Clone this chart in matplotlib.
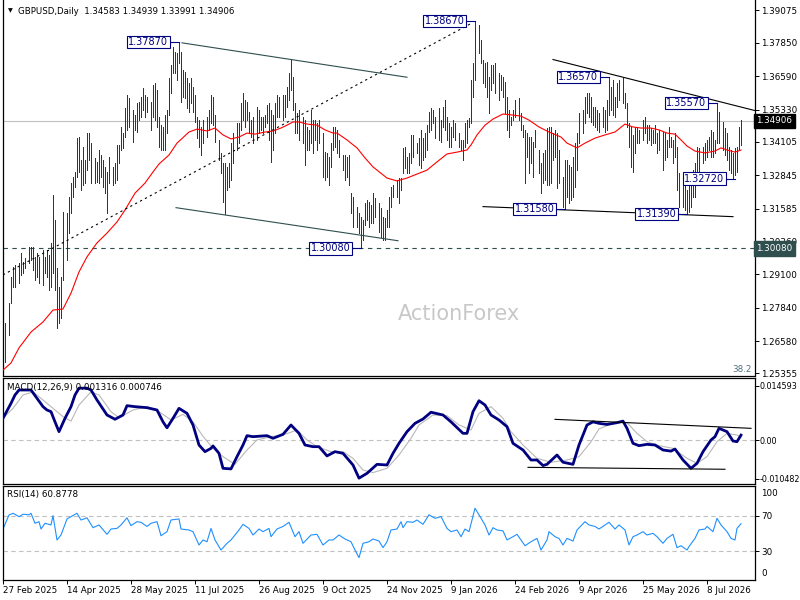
import matplotlib
matplotlib.use("Agg")
import matplotlib.pyplot as plt
from matplotlib.transforms import blended_transform_factory

plt.rcParams['font.family'] = ['DejaVu Sans']

# ---------------- data (GBPUSD daily) ----------------
# day = trading-day index from 27 Feb 2025
bar_day = [0, 1, 3, 4, 5, 6, 8, 9, 10, 11, 13, 14, 15, 16, 17, 18, 20, 21, 22, 23,
           24, 25, 26, 27, 28, 29, 30, 32, 33, 34, 35, 36, 37, 38, 39, 40, 41, 42, 43, 44,
           46, 47, 48, 49, 50, 51, 52, 53, 55, 56, 57, 58, 59, 60, 61, 62, 63, 65, 66, 67,
           68, 69, 70, 71, 72, 74, 75, 76, 77, 78, 79, 80, 81, 82, 83, 84, 85, 86, 87, 88,
           89, 90, 91, 92, 93,
           94, 95, 96, 97, 98, 99, 100, 102, 103, 104, 105, 106, 108, 109, 110, 111, 112, 113, 114, 115,
           117, 118, 119, 120, 121, 122, 123, 124, 125, 127, 128, 129, 130, 131, 132, 133, 134, 135, 136, 137,
           138, 140, 141, 142, 143, 144, 145, 146, 147, 148, 150, 151, 152, 153, 154, 155, 156, 157, 158, 160,
           161, 162, 163, 164, 165, 166, 167, 168, 170, 171, 172, 173, 174, 175, 177, 178, 179, 180, 181, 182,
           183, 184,
           185, 186, 188, 189, 190, 191, 192, 193, 194, 195, 197, 198, 199, 200, 201, 202, 203, 204, 205, 207,
           208, 209, 210, 211, 212, 213, 214, 215, 216, 218, 219, 220, 221, 222, 223, 224, 225, 226, 228, 229,
           230, 231, 232, 233, 234, 235, 236, 238, 239, 240, 241, 242, 243, 244, 245, 246, 248, 249, 250, 251,
           252, 253, 254, 255, 256, 258, 259, 260, 261, 262, 263, 264, 265, 266, 268, 269, 270, 271, 272, 273,
           274, 275, 276,
           277, 278, 280, 281, 282, 283, 284, 285, 286, 287, 288, 290, 291, 292, 293, 294, 295, 296, 297, 298,
           300, 301, 302, 303, 304, 305, 306, 307, 308, 310, 311, 312, 313, 314, 315, 316, 317, 318, 320, 321,
           322, 323, 324, 325, 326, 327, 328, 330, 331, 332, 333, 334, 335, 336, 337, 338, 340, 341, 342, 343,
           344, 345, 346, 347, 348, 350, 351, 352, 353, 354, 355, 356, 357, 358, 360, 361, 362, 363, 364, 365,
           366, 367, 368, 369]

bar_high = [1.2692, 1.2726, 1.2802, 1.2900, 1.2938, 1.2945, 1.2953, 1.2991, 1.2957, 1.2972,
            1.3013, 1.3013, 1.3013, 1.2976, 1.2991, 1.2976, 1.3002, 1.2976, 1.3002, 1.2983,
            1.3028, 1.3210, 1.3115, 1.2934, 1.2862, 1.2900, 1.3146, 1.3142, 1.3202, 1.3255,
            1.3278, 1.3297, 1.3425, 1.3429, 1.3342, 1.3391, 1.3342, 1.3444, 1.3444, 1.3406,
            1.3350, 1.3335, 1.3380, 1.3361, 1.3342, 1.3316, 1.3297, 1.3354, 1.3316, 1.3331,
            1.3399, 1.3399, 1.3467, 1.3444, 1.3539, 1.3588, 1.3577, 1.3531, 1.3512, 1.3558,
            1.3561, 1.3580, 1.3614, 1.3588, 1.3580, 1.3561, 1.3626, 1.3633, 1.3607, 1.3505,
            1.3474, 1.3467, 1.3512, 1.3531, 1.3652, 1.3701, 1.3769, 1.3750, 1.3747, 1.3787,
            1.3750, 1.3682, 1.3675, 1.3652, 1.3633,
            1.3652, 1.3618, 1.3588, 1.3505, 1.3493, 1.3467, 1.3493, 1.3505, 1.3531, 1.3588,
            1.3580, 1.3512, 1.3418, 1.3369, 1.3331, 1.3331, 1.3316, 1.3331, 1.3406, 1.3444,
            1.3482, 1.3482, 1.3558, 1.3595, 1.3569, 1.3561, 1.3524, 1.3493, 1.3505, 1.3543,
            1.3531, 1.3505, 1.3505, 1.3512, 1.3550, 1.3558, 1.3531, 1.3512, 1.3558, 1.3588,
            1.3580, 1.3588, 1.3588, 1.3618, 1.3671, 1.3720, 1.3656, 1.3558, 1.3520, 1.3531,
            1.3505, 1.3493, 1.3467, 1.3456, 1.3531, 1.3493, 1.3493, 1.3482, 1.3493, 1.3444,
            1.3372, 1.3369, 1.3354, 1.3406, 1.3467, 1.3467, 1.3456, 1.3418, 1.3361, 1.3361,
            1.3354, 1.3361, 1.3217, 1.3202, 1.3165, 1.3142, 1.3127, 1.3115, 1.3180, 1.3191,
            1.3183, 1.3172,
            1.3217, 1.3199, 1.3180, 1.3161, 1.3127, 1.3123, 1.3153, 1.3202, 1.3240, 1.3248,
            1.3267, 1.3274, 1.3274, 1.3388, 1.3391, 1.3354, 1.3369, 1.3437, 1.3437, 1.3406,
            1.3425, 1.3456, 1.3425, 1.3444, 1.3474, 1.3524, 1.3539, 1.3531, 1.3505, 1.3539,
            1.3493, 1.3543, 1.3569, 1.3505, 1.3482, 1.3467, 1.3493, 1.3482, 1.3444, 1.3418,
            1.3418, 1.3482, 1.3493, 1.3501, 1.3645, 1.3709, 1.3867, 1.3853, 1.3796, 1.3720,
            1.3709, 1.3713, 1.3656, 1.3701, 1.3701, 1.3709, 1.3671, 1.3663, 1.3656, 1.3637,
            1.3580, 1.3531, 1.3505, 1.3531, 1.3569, 1.3577, 1.3520, 1.3474, 1.3456, 1.3444,
            1.3429, 1.3429, 1.3410, 1.3456, 1.3380, 1.3331, 1.3369, 1.3380, 1.3463, 1.3467,
            1.3467, 1.3444, 1.3456,
            1.3444, 1.3380, 1.3278, 1.3342, 1.3342, 1.3323, 1.3316, 1.3354, 1.3406, 1.3444,
            1.3520, 1.3531, 1.3580, 1.3595, 1.3595, 1.3580, 1.3543, 1.3543, 1.3531, 1.3520,
            1.3543, 1.3531, 1.3569, 1.3657, 1.3618, 1.3645, 1.3580, 1.3633, 1.3645, 1.3652,
            1.3595, 1.3558, 1.3482, 1.3467, 1.3437, 1.3467, 1.3467, 1.3456, 1.3493, 1.3505,
            1.3474, 1.3474, 1.3463, 1.3456, 1.3474, 1.3444, 1.3456, 1.3448, 1.3444, 1.3418,
            1.3467, 1.3429, 1.3418, 1.3444, 1.3391, 1.3293, 1.3267, 1.3267, 1.3229, 1.3267,
            1.3267, 1.3304, 1.3331, 1.3391, 1.3388, 1.3391, 1.3406, 1.3418, 1.3429, 1.3456,
            1.3448, 1.3418, 1.3557, 1.3524, 1.3486, 1.3463, 1.3444, 1.3391, 1.3380, 1.3369,
            1.3388, 1.3391, 1.3467, 1.3494]

bar_low = [1.2594, 1.2579, 1.2681, 1.2802, 1.2862, 1.2862, 1.2877, 1.2907, 1.2915, 1.2934,
           1.2953, 1.2964, 1.2926, 1.2889, 1.2900, 1.2877, 1.2870, 1.2915, 1.2900, 1.2851,
           1.2862, 1.2915, 1.2851, 1.2707, 1.2726, 1.2745, 1.2889, 1.2964, 1.3066, 1.3142,
           1.3202, 1.3240, 1.3278, 1.3297, 1.3229, 1.3248, 1.3255, 1.3304, 1.3342, 1.3255,
           1.3255, 1.3259, 1.3255, 1.3278, 1.3240, 1.3217, 1.3142, 1.3255, 1.3248, 1.3255,
           1.3267, 1.3331, 1.3380, 1.3388, 1.3429, 1.3456, 1.3467, 1.3410, 1.3456, 1.3448,
           1.3493, 1.3505, 1.3531, 1.3505, 1.3524, 1.3456, 1.3505, 1.3493, 1.3467, 1.3391,
           1.3380, 1.3380, 1.3380, 1.3444, 1.3512, 1.3595, 1.3671, 1.3671, 1.3645, 1.3709,
           1.3561, 1.3580, 1.3577, 1.3539, 1.3524,
           1.3558, 1.3524, 1.3486, 1.3425, 1.3391, 1.3361, 1.3406, 1.3429, 1.3456, 1.3482,
           1.3474, 1.3410, 1.3342, 1.3293, 1.3183, 1.3138, 1.3229, 1.3240, 1.3267, 1.3331,
           1.3380, 1.3406, 1.3456, 1.3493, 1.3467, 1.3493, 1.3444, 1.3429, 1.3406, 1.3418,
           1.3444, 1.3456, 1.3444, 1.3467, 1.3482, 1.3418, 1.3335, 1.3380, 1.3444, 1.3505,
           1.3505, 1.3493, 1.3505, 1.3543, 1.3569, 1.3607, 1.3531, 1.3444, 1.3444, 1.3418,
           1.3406, 1.3323, 1.3380, 1.3380, 1.3406, 1.3369, 1.3418, 1.3380, 1.3406, 1.3278,
           1.3267, 1.3278, 1.3248, 1.3316, 1.3380, 1.3391, 1.3369, 1.3354, 1.3304, 1.3267,
           1.3278, 1.3248, 1.3142, 1.3089, 1.3089, 1.3066, 1.3008, 1.3040, 1.3096, 1.3115,
           1.3089, 1.3104,
           1.3104, 1.3127, 1.3070, 1.3051, 1.3040, 1.3040, 1.3089, 1.3089, 1.3165, 1.3202,
           1.3202, 1.3180, 1.3229, 1.3293, 1.3312, 1.3293, 1.3293, 1.3331, 1.3354, 1.3369,
           1.3323, 1.3312, 1.3342, 1.3354, 1.3380, 1.3448, 1.3456, 1.3482, 1.3425, 1.3418,
           1.3410, 1.3467, 1.3456, 1.3418, 1.3391, 1.3391, 1.3429, 1.3418, 1.3391, 1.3380,
           1.3342, 1.3391, 1.3406, 1.3467, 1.3482, 1.3580, 1.3645, 1.3747, 1.3709, 1.3633,
           1.3618, 1.3580, 1.3520, 1.3607, 1.3633, 1.3595, 1.3569, 1.3607, 1.3580, 1.3520,
           1.3456, 1.3429, 1.3474, 1.3493, 1.3505, 1.3493, 1.3456, 1.3429, 1.3255, 1.3354,
           1.3293, 1.3331, 1.3278, 1.3391, 1.3293, 1.3217, 1.3255, 1.3267, 1.3248, 1.3248,
           1.3255, 1.3342, 1.3354,
           1.3236, 1.3255, 1.3165, 1.3158, 1.3202, 1.3180, 1.3191, 1.3202, 1.3240, 1.3304,
           1.3406, 1.3444, 1.3482, 1.3520, 1.3505, 1.3486, 1.3474, 1.3467, 1.3456, 1.3448,
           1.3467, 1.3448, 1.3456, 1.3512, 1.3531, 1.3512, 1.3505, 1.3543, 1.3569, 1.3558,
           1.3539, 1.3467, 1.3391, 1.3316, 1.3297, 1.3369, 1.3406, 1.3406, 1.3418, 1.3444,
           1.3406, 1.3418, 1.3399, 1.3406, 1.3406, 1.3369, 1.3380, 1.3304, 1.3342, 1.3354,
           1.3391, 1.3391, 1.3331, 1.3354, 1.3229, 1.3165, 1.3165, 1.3153, 1.3139, 1.3146,
           1.3165, 1.3202, 1.3202, 1.3255, 1.3293, 1.3331, 1.3342, 1.3354, 1.3380, 1.3354,
           1.3354, 1.3369, 1.3406, 1.3406, 1.3380, 1.3361, 1.3342, 1.3304, 1.3293, 1.3272,
           1.3285, 1.3297, 1.3380, 1.3399]

# moving average (red)
ma_day = [0, 4, 8, 14, 20, 25, 30, 34, 38, 42, 47, 52, 57, 61, 66, 71, 75, 78, 83, 87,
          93, 97, 102, 106, 110, 114, 118, 122, 126, 131, 135, 139, 142, 145, 148, 152, 157, 161, 165, 167,
          172, 177, 181, 185, 187, 192, 197, 202, 207, 212, 217, 222, 227, 232, 234, 237, 241, 245, 250, 255,
          259, 263, 268, 273, 279, 282, 287, 291, 296, 301, 306, 311, 315, 319, 324, 328, 332, 336, 339, 342,
          346, 351, 356, 359, 362, 366, 369]
ma_val = [1.2548, 1.2575, 1.2632, 1.2692, 1.2730, 1.2775, 1.2779, 1.2839, 1.2919, 1.2976,
          1.3029, 1.3066, 1.3108, 1.3153, 1.3217, 1.3255, 1.3297, 1.3327, 1.3361, 1.3406,
          1.3448, 1.3459, 1.3452, 1.3463, 1.3437, 1.3422, 1.3429, 1.3444, 1.3440, 1.3448,
          1.3452, 1.3463, 1.3474, 1.3486, 1.3486, 1.3478, 1.3474, 1.3456, 1.3444, 1.3444,
          1.3418, 1.3388, 1.3350, 1.3316, 1.3304, 1.3274, 1.3263, 1.3274, 1.3289, 1.3304,
          1.3335, 1.3365, 1.3372, 1.3380, 1.3399, 1.3437, 1.3474, 1.3497, 1.3516, 1.3512,
          1.3508, 1.3493, 1.3467, 1.3448, 1.3429, 1.3406, 1.3388, 1.3406, 1.3425, 1.3437,
          1.3448, 1.3478, 1.3467, 1.3463, 1.3463, 1.3456, 1.3444, 1.3440, 1.3418, 1.3395,
          1.3376, 1.3369, 1.3376, 1.3388, 1.3380, 1.3372, 1.3380]

# MACD(12,26,9)
macd_day = [0, 4, 6, 8, 14, 17, 20, 22, 24, 26, 28, 31, 34, 36, 38, 42, 44, 47, 52, 56,
            60, 62, 66, 72, 77, 80, 82, 85, 88, 92, 95, 98, 101, 104, 105, 108, 110, 114, 117, 120,
            122, 125, 132, 135, 140, 144, 148, 151, 155, 158, 162, 166, 170, 175, 178, 182, 187, 192, 195, 198,
            202, 206, 210, 214, 220, 224, 230, 232, 235, 238, 241, 244, 248, 252, 255, 260, 264, 267, 270, 272,
            277, 280, 285, 288, 292, 295, 298, 302, 307, 310, 312, 315, 318, 322, 326, 330, 334, 336, 340, 344,
            347, 350, 354, 356, 358, 362, 365, 367, 369]
macd_val = [0.00586, 0.0099, 0.01215, 0.0135, 0.0135, 0.01125, 0.0090, 0.0081, 0.00765, 0.0049,
            0.00225, 0.00585, 0.0090, 0.01215, 0.0140, 0.0140, 0.0135, 0.0108, 0.00675, 0.0056,
            0.00675, 0.00927, 0.0090, 0.00873, 0.0081, 0.0049, 0.0033, 0.00585, 0.00855, 0.0072,
            0.00405, -0.00135, -0.00315, -0.00225, -0.0016, -0.0036, -0.00765, -0.0078, -0.0045, -0.00135,
            0.00117, 0.0009, 0.00117, 0.00045, 0.00153, 0.00405, 0.0018, -0.00135, -0.0018, -0.0018,
            -0.0043, -0.00315, -0.0036, -0.00675, -0.0103, -0.009, -0.00657, -0.00675, -0.0036, -0.0009,
            0.00225, 0.0045, 0.00567, 0.0075, 0.00675, 0.0049, 0.0018, 0.0018, 0.00765, 0.0106,
            0.00945, 0.00675, 0.0054, 0.0036, -0.0009, -0.0027, -0.0054, -0.0054, -0.0069, -0.00657,
            -0.00405, -0.006, -0.00657, -0.00135, 0.00405, 0.0049, 0.0045, 0.0042, 0.00468, 0.0051,
            0.00315, -0.0009, -0.00153, -0.00117, -0.00135, -0.0027, -0.003, -0.00243, -0.0054, -0.00765,
            -0.0063, -0.00315, 0.0, 0.0009, 0.00315, 0.00225, -0.00027, -0.00045, 0.001316]
sig_day = [0, 5, 10, 15, 20, 25, 30, 34, 38, 44, 48, 54, 58, 65, 72, 78, 84, 90, 95, 100,
           105, 110, 116, 122, 127, 134, 140, 147, 152, 157, 164, 170, 175, 180, 185, 192, 198,
           204, 208, 215, 222, 228, 234, 238, 244, 250, 254, 260, 267, 274, 282, 288, 294, 298, 305,
           312, 317, 322, 328, 335, 342, 347, 352, 357, 362, 367, 369]
sig_val = [0.00585, 0.00855, 0.01215, 0.0130, 0.0108, 0.00855, 0.0063, 0.0051, 0.00945, 0.0130,
           0.01215, 0.00765, 0.006, 0.0081, 0.009, 0.00765, 0.0054, 0.00693, 0.0049, 0.001,
           -0.00225, -0.0045, -0.00657, -0.0027, 0.0, 0.0009, 0.00135, 0.0027, 0.0, -0.0018,
           -0.00315, -0.00315, -0.00495, -0.0081, -0.0088, -0.00765, -0.00405,
           0.00045, 0.00405, 0.00675, 0.00657, 0.00405, 0.0027, 0.0072, 0.009, 0.00585, 0.00225,
           -0.00135, -0.00495, -0.006, -0.0054, -0.0045, -0.0005, 0.0030, 0.0045,
           0.00468, 0.0018, -0.00045, -0.00153, -0.00225, -0.00495, -0.0063, -0.0045, -0.00045, 0.0018,
           0.00135, 0.000746]

# RSI(14)
rsi_day = [0, 3, 5, 8, 10, 13, 14, 16, 18, 19, 21, 24, 25, 27, 29, 32, 34, 37, 39, 42,
           45, 48, 52, 54, 57, 59, 62, 64, 67, 69, 72, 74, 77, 79, 82, 84, 88, 89, 93, 95,
           98, 100, 102, 104, 106, 109, 112, 114, 118, 120, 123, 125, 128, 130, 133, 134, 137, 140, 143, 146,
           148, 150, 154, 157, 160, 163, 165, 168, 171, 174, 176, 178, 180, 183, 185, 188, 190, 192, 194, 197,
           199, 200, 202, 205, 207, 210, 213, 216, 219, 222, 224, 227, 229, 231, 233, 236, 238, 241, 243, 245,
           247, 250, 252, 255, 257, 259, 261, 264, 267, 269, 272, 273, 276, 278, 280, 282, 285, 287, 291, 293,
           296, 298, 301, 303, 306, 308, 311, 313, 315, 317, 320, 322, 325, 327, 330, 332, 335, 337, 339, 342,
           343, 346, 348, 351, 352, 355, 357, 359, 362, 364, 366, 367, 369]
rsi_val = [54.9, 70.8, 72.7, 68.9, 71.6, 71.0, 72.7, 61.4, 63.2, 54.9,
           61.4, 59.5, 70.0, 42.5, 48.1, 66.3, 69.0, 72.7, 65.1, 67.6,
           56.4, 59.5, 48.9, 54.9, 55.6, 59.5, 67.6, 58.7, 63.2, 62.5,
           57.8, 61.4, 63.2, 47.3, 51.9, 65.1, 66.3, 54.9, 53.8, 51.9,
           36.8, 42.5, 40.5, 55.6, 42.5, 31.1, 38.7, 42.5, 53.8, 60.2,
           55.6, 48.1, 54.9, 51.9, 55.6, 46.2, 54.9, 57.8, 62.5, 46.2,
           51.9, 38.7, 48.1, 48.9, 36.8, 42.5, 42.5, 48.1, 43.6, 40.5,
           31.1, 22.5, 38.7, 40.5, 43.6, 41.3, 33.8, 40.5, 53.8, 54.9,
           63.2, 56.4, 63.2, 62.5, 65.1, 60.2, 71.0, 67.0, 69.0, 55.6,
           51.9, 53.8, 46.2, 54.9, 51.9, 78.4, 71.0, 59.5, 48.1, 56.4,
           53.8, 52.8, 42.5, 46.2, 48.9, 42.5, 36.0, 40.5, 44.3, 31.1,
           42.5, 51.9, 46.2, 44.3, 36.8, 44.3, 41.3, 53.8, 63.2, 59.5,
           57.8, 54.9, 59.5, 62.5, 54.9, 59.5, 53.8, 36.8, 46.2, 48.1,
           51.9, 48.1, 50.0, 46.2, 38.7, 44.3, 48.9, 33.8, 36.0, 31.1,
           35.0, 44.3, 53.8, 54.9, 57.8, 51.9, 67.0, 59.5, 51.9, 44.3,
           42.5, 55.6, 60.8778]

price_ticks = [1.39075, 1.37850, 1.36590, 1.35330, 1.34105, 1.32845, 1.31585,
               1.30360, 1.29100, 1.27840, 1.26580, 1.25355]
date_days = [0, 32, 64, 96, 128, 160, 192, 224, 256, 288, 320, 352]
date_labels = ["27 Feb 2025", "14 Apr 2025", "28 May 2025", "11 Jul 2025",
               "26 Aug 2025", "9 Oct 2025", "24 Nov 2025", "9 Jan 2026",
               "24 Feb 2026", "9 Apr 2026", "25 May 2026", "8 Jul 2026"]

# swing high / low labels
pivot_day = [88, 236, 303, 357, 366, 342, 281, 179]
pivot_val = [1.37870, 1.38670, 1.36570, 1.35570, 1.32720, 1.31390, 1.31580, 1.30080]

# trendlines: (day0, price0, day1, price1)
channel_up = (89.5, 1.3785, 202, 1.3655)
channel_dn = (86.5, 1.3162, 197.5, 1.3037)
dotted_up = (0, 1.2908, 233.5, 1.3856)
resist_line = (275, 1.3722, 376, 1.3529)
support_line = (240, 1.3166, 365, 1.3128)
macd_upper = (276, 0.00558, 374, 0.00315)
macd_lower = (262.5, -0.00738, 361, -0.0079)

last_close = 1.34906
low_level = 1.30080

# ---------------- layout ----------------
W, H = 800, 600
BAR_C = '#0E3F5C'
SLATE = '#2F4F4F'
NAVY = '#000080'
FS = 6.3


def rect(x0, y0, x1, y1):
    return [x0 / W, 1 - y1 / H, (x1 - x0) / W, (y1 - y0) / H]


fig = plt.figure(figsize=(8, 6), dpi=100)
fig.patch.set_facecolor('white')
ax = fig.add_axes(rect(2.5, 0, 754.5, 375.5))
ax_m = fig.add_axes(rect(2.5, 378, 754.5, 483.5))
ax_r = fig.add_axes(rect(2.5, 486, 754.5, 579.5))

for a in (ax, ax_m, ax_r):
    a.set_xlim(-0.25, 375.75)
    for s in a.spines.values():
        s.set_linewidth(0.9)
        s.set_color('black')
    a.yaxis.tick_right()
    a.tick_params(axis='y', direction='out', length=3, width=0.7,
                  pad=2, labelsize=FS)
ax.spines['top'].set_visible(False)
ax.set_xticks([])
ax_m.set_xticks([])

# ---------------- main price panel ----------------
ax.set_ylim(1.25276, 1.3947)
ax.set_yticks(price_ticks)
ax.set_yticklabels([f"{p:.5f}" for p in price_ticks])

ax.axhline(last_close, color='#C0C0C0', lw=0.8, zorder=1)
ax.axhline(low_level, color=SLATE, lw=0.8, ls=(0, (4, 4)), zorder=1)

ax.vlines(bar_day, bar_low, bar_high, color=BAR_C, lw=0.65,
          antialiased=False, zorder=2)
ax.plot(ma_day, ma_val, color='red', lw=0.8, zorder=3)

for ln, col, ls in [(channel_up, SLATE, '-'), (channel_dn, SLATE, '-'),
                    (dotted_up, 'black', (0, (2, 3))),
                    (resist_line, 'black', '-'), (support_line, 'black', '-')]:
    ax.plot([ln[0], ln[2]], [ln[1], ln[3]], color=col, lw=0.8, ls=ls, zorder=3)

for d, v in zip(pivot_day, pivot_val):
    ax.plot([d - 4.5, d], [v, v], color=NAVY, lw=0.8, zorder=4)
    ax.text(d - 5.3, v, f"{v:.5f}", ha='right', va='center', fontsize=7,
            color=NAVY, zorder=5,
            bbox=dict(boxstyle='square,pad=0.12', fc='white', ec=NAVY, lw=0.8))

ax.text(0.0206, 0.9707, "GBPUSD,Daily  1.34583 1.34939 1.33991 1.34906",
        transform=ax.transAxes, fontsize=6.2, va='center', ha='left')
ax.text(0.0105, 0.9707, "\u25BC", transform=ax.transAxes, fontsize=4.5,
        va='center', ha='center')
ax.text(0.607, 0.164, "ActionForex", transform=ax.transAxes, fontsize=15,
        color='#C8C8C8', ha='center', va='center')
ax.text(0.9967, 0.0173, "38.2", transform=ax.transAxes, fontsize=FS,
        color='#4F6F7F', ha='right', va='center')

tr = blended_transform_factory(ax.transAxes, ax.transData)
ax.text(1.0025, last_close, f"{last_close:.5f}", transform=tr, fontsize=FS,
        color='white', ha='left', va='center', clip_on=False, zorder=6,
        bbox=dict(boxstyle='square,pad=0.3', fc='black', ec='black'))
ax.text(1.0025, low_level, f"{low_level:.5f}", transform=tr, fontsize=FS,
        color='white', ha='left', va='center', clip_on=False, zorder=6,
        bbox=dict(boxstyle='square,pad=0.3', fc=SLATE, ec=SLATE))

# ---------------- MACD panel ----------------
ax_m.set_ylim(-0.011745, 0.01674)
ax_m.set_yticks([0.014593, 0.0, -0.010482])
ax_m.set_yticklabels(['0.014593', '0.00', '-0.010482'])
ax_m.tick_params(axis='y', labelsize=5.8, pad=0.5)
ax_m.axhline(0, color='#C0C0C0', lw=0.8, ls=(0, (4, 3)), zorder=1)
ax_m.plot(sig_day, sig_val, color='#B8B8B8', lw=0.8, zorder=2)
ax_m.plot(macd_day, macd_val, color=NAVY, lw=2.0, zorder=3)
for ln in (macd_upper, macd_lower):
    ax_m.plot([ln[0], ln[2]], [ln[1], ln[3]], color='black', lw=0.8, zorder=4)
ax_m.text(0.006, 0.908, "MACD(12,26,9) 0.001316 0.000746",
          transform=ax_m.transAxes, fontsize=FS, va='center', ha='left')

# ---------------- RSI panel ----------------
ax_r.set_ylim(-2.26, 103.6)
ax_r.set_yticks([70, 30])
ax_r.set_yticklabels(['70', '30'])
for lvl in (70, 30):
    ax_r.axhline(lvl, color='#C0C0C0', lw=0.8, ls=(0, (4, 3)), zorder=1)
ax_r.plot(rsi_day, rsi_val, color='#1E90FF', lw=0.8, zorder=2)
tr_r = blended_transform_factory(ax_r.transAxes, ax_r.transData)
ax_r.text(1.0086, 100, "100", transform=tr_r, fontsize=FS, va='top',
          ha='left', clip_on=False)
ax_r.text(1.0086, 0, "0", transform=tr_r, fontsize=FS, va='bottom',
          ha='left', clip_on=False)
ax_r.text(0.006, 0.904, "RSI(14) 60.8778", transform=ax_r.transAxes,
          fontsize=FS, va='center', ha='left')

ax_r.set_xticks(date_days)
ax_r.set_xticklabels(date_labels)
ax_r.tick_params(axis='x', direction='out', length=3, width=0.7, pad=1.5,
                 labelsize=FS)
for lbl in ax_r.get_xticklabels():
    lbl.set_ha('left')

fig.savefig("out.png", dpi=100)
